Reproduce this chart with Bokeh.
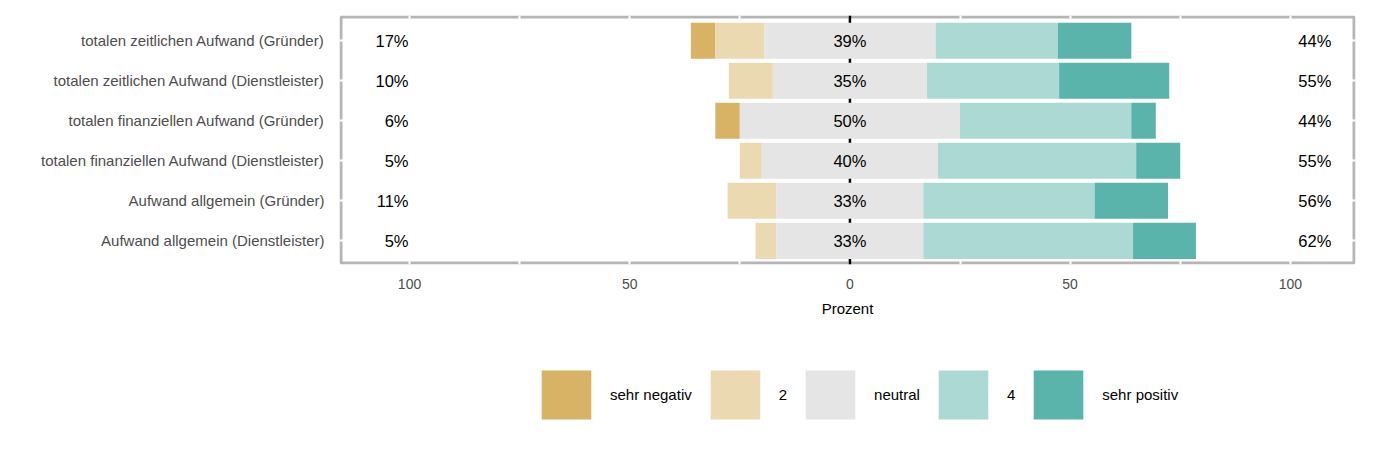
from bokeh.plotting import figure
from bokeh.layouts import column
from bokeh.models import FixedTicker, Legend, LegendItem
from bokeh.embed import file_html
from bokeh.resources import INLINE
from bokeh.core.properties import value

items = [
    "totalen zeitlichen Aufwand (Gründer)",
    "totalen zeitlichen Aufwand (Dienstleister)",
    "totalen finanziellen Aufwand (Gründer)",
    "totalen finanziellen Aufwand (Dienstleister)",
    "Aufwand allgemein (Gründer)",
    "Aufwand allgemein (Dienstleister)",
]
levels = ["sehr negativ", "2", "neutral", "4", "sehr positiv"]
sehr_negativ = [5.56, 0.0, 5.56, 0.0, 0.0, 0.0]
zwei = [11.11, 10.0, 0.0, 5.0, 11.11, 4.76]
neutral = [38.89, 35.0, 50.0, 40.0, 33.33, 33.33]
vier = [27.78, 30.0, 38.89, 45.0, 38.89, 47.62]
sehr_positiv = [16.67, 25.0, 5.56, 10.0, 16.67, 14.29]
colors = ["#D8B365", "#EBD9B2", "#E5E5E5", "#ADD9D5", "#5AB4AC"]
x_ticks = [-100, -50, 0, 50, 100]
x_minor = [-75, -25, 25, 75]

FONT = "Liberation Sans"
n = len(items)
ys = [n - i for i in range(n)]

X0, X1 = -115.9, 114.8
Y0, Y1 = 0.41, 6.63
FW, FH = 1016, 249
BL, BT, BB = 339, 15, 60
W = 1361
H = BT + FH + BB
BR = W - BL - FW

p = figure(width=W, height=H, x_range=(X0, X1), y_range=(Y0, Y1),
           output_backend="svg", toolbar_location=None,
           min_border_left=BL, min_border_right=BR, min_border_top=BT, min_border_bottom=BB)
p.outline_line_color = None
p.background_fill_color = "white"
p.border_fill_color = "white"

# panel border (drawn below the grid so that white grid lines cut it)
dx = 1.5 * (X1 - X0) / FW
dy = 1.5 * (Y1 - Y0) / FH
p.quad(left=[X0 + dx], right=[X1 - dx], bottom=[Y0 + dy], top=[Y1 - dy],
       fill_color=None, line_color="#B5B5B5", line_width=3, level="image")

# grid
p.xgrid.ticker = FixedTicker(ticks=x_ticks, minor_ticks=x_minor)
p.xgrid.grid_line_color = "white"
p.xgrid.grid_line_width = 2
p.xgrid.minor_grid_line_color = "white"
p.xgrid.minor_grid_line_width = 2
p.ygrid.ticker = FixedTicker(ticks=ys)
p.ygrid.grid_line_color = "white"
p.ygrid.grid_line_width = 2

# centre line
p.segment(x0=[0], x1=[0], y0=[Y0], y1=[Y1], line_color="black", line_width=2.5)

# stacked bars
lefts = []
rights = []
for i in range(n):
    h = neutral[i] / 2
    edges = [-(h + zwei[i] + sehr_negativ[i]), -(h + zwei[i]), -h, h, h + vier[i], h + vier[i] + sehr_positiv[i]]
    lefts.append(edges[:-1])
    rights.append(edges[1:])

for k, lv in enumerate(levels):
    p.hbar(y=ys, left=[lefts[i][k] for i in range(n)], right=[rights[i][k] for i in range(n)],
           height=0.9, fill_color=colors[k], line_color=None)

# percentage labels
low = [f"{round(sehr_negativ[i] + zwei[i])}%" for i in range(n)]
mid = [f"{round(neutral[i])}%" for i in range(n)]
high = [f"{round(vier[i] + sehr_positiv[i])}%" for i in range(n)]
common = dict(text_baseline="middle", text_font=value(FONT), text_font_size="16.5px", text_color="black")
p.text(x=[-100] * n, y=ys, text=low, text_align="right", x_offset=-1, **common)
p.text(x=[0] * n, y=ys, text=mid, text_align="center", **common)
p.text(x=[100] * n, y=ys, text=high, text_align="left", x_offset=8, **common)

# axes
xa = p.xaxis[0]
xa.ticker = FixedTicker(ticks=x_ticks, minor_ticks=x_minor)
xa.major_label_overrides = {t: str(abs(t)) for t in x_ticks}
xa.axis_line_color = None
xa.major_tick_line_color = None
xa.minor_tick_line_color = None
xa.major_tick_out = 0
xa.major_tick_in = 0
xa.minor_tick_out = 0
xa.minor_tick_in = 0
xa.major_label_standoff = 14
xa.major_label_text_font = FONT
xa.major_label_text_font_size = "14px"
xa.major_label_text_color = "#4D4D4D"
xa.axis_label = "Prozent"
xa.axis_label_text_font = FONT
xa.axis_label_text_font_size = "15px"
xa.axis_label_text_font_style = "normal"
xa.axis_label_text_color = "black"
xa.axis_label_standoff = 8

ya = p.yaxis[0]
ya.ticker = FixedTicker(ticks=ys)
ya.major_label_overrides = {ys[i]: items[i] for i in range(n)}
ya.axis_line_color = None
ya.major_tick_line_color = None
ya.minor_tick_line_color = None
ya.major_tick_out = 0
ya.major_tick_in = 0
ya.minor_tick_out = 0
ya.minor_tick_in = 0
ya.major_label_standoff = 15
ya.major_label_text_font = FONT
ya.major_label_text_font_size = "15px"
ya.major_label_text_color = "#4D4D4D"

# legend in its own strip below the chart (its frame is aligned with the chart's)
LH = 110
lg = figure(width=W, height=LH, x_range=(X0, X1), y_range=(-20, -19),
            output_backend="svg", toolbar_location=None,
            x_axis_type=None, y_axis_type=None,
            min_border_left=BL, min_border_right=BR, min_border_top=0, min_border_bottom=0)
lg.outline_line_color = None
lg.xgrid.visible = False
lg.ygrid.visible = False
# zero-width key glyphs: only their legend swatches are drawn
lg_renderers = [lg.hbar(y=ys, left=[0] * n, right=[0] * n, height=0.9, fill_color=c, line_color=None)
                for c in colors]
legend = Legend(
    items=[LegendItem(label=value(levels[k]), renderers=[lg_renderers[k]]) for k in range(len(levels))],
    orientation="horizontal", location=(196, 9),
    glyph_width=62, glyph_height=61, label_standoff=13, spacing=12, label_width=0,
    padding=0, margin=0, border_line_alpha=0, background_fill_alpha=0,
    label_text_font=FONT, label_text_font_size="15px", label_text_color="black",
)
lg.add_layout(legend)

layout = column(p, lg, spacing=0)
open("out.html", "w").write(file_html(layout, INLINE))
